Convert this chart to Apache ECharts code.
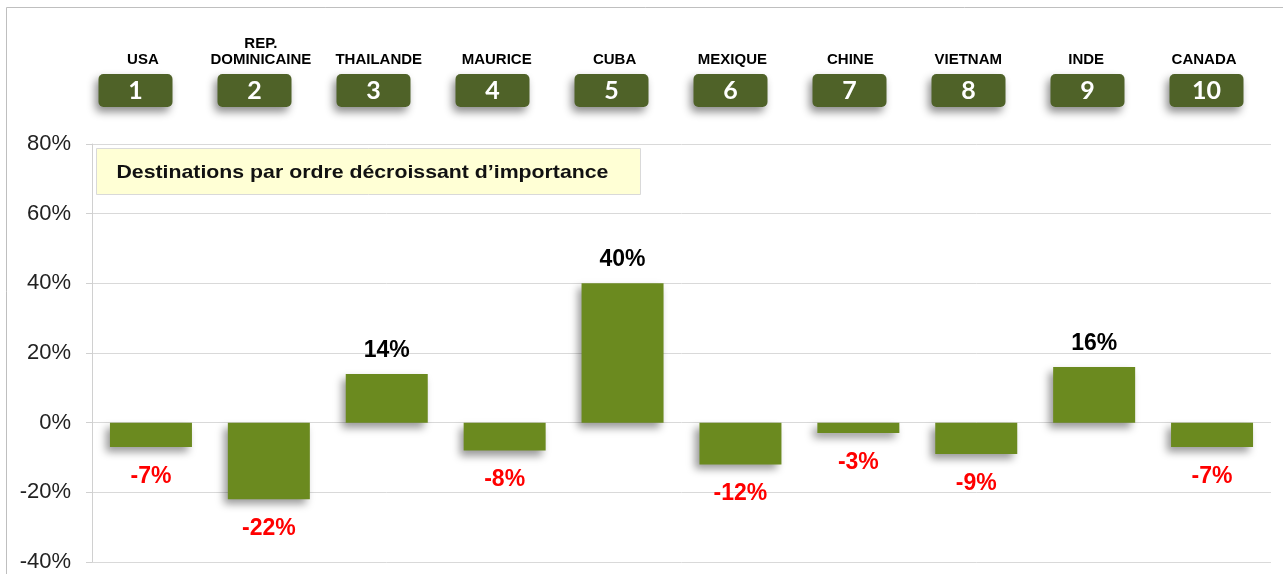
<!DOCTYPE html>
<html>
<head>
<meta charset="utf-8">
<script src="https://cdn.jsdelivr.net/npm/echarts@6/dist/echarts.min.js"></script>
<style>
  html, body { margin: 0; padding: 0; background: #fff; }
  #chart { width: 1283px; height: 574px; }
</style>
</head>
<body>
<div id="chart"></div>
<script>
const destinations = ['USA', 'REP.\nDOMINICAINE', 'THAILANDE', 'MAURICE', 'CUBA', 'MEXIQUE', 'CHINE', 'VIETNAM', 'INDE', 'CANADA']
const ranks = [1, 2, 3, 4, 5, 6, 7, 8, 9, 10]
const evolution = [-7, -22, 14, -8, 40, -12, -3, -9, 16, -7]
const boxTitle = 'Destinations par ordre d\u00e9croissant d\u2019importance'

const font = '"Liberation Sans", Arial, sans-serif'

const dom = echarts.init(document.getElementById('chart'))

const option = {
  animation: false,
  textStyle: { fontFamily: font },
  graphic: [
    {
      type: 'rect',
      shape: { x: 6.5, y: 7.5, width: 1400, height: 700 },
      style: { fill: 'none', stroke: '#bfbfbf', lineWidth: 1 },
      silent: true,
      z: 0
    },
    {
      type: 'group',
      left: 96,
      top: 148,
      z: 10,
      children: [
        {
          type: 'rect',
          shape: { x: 0, y: 0, width: 544, height: 46 },
          style: { fill: '#ffffd5', stroke: '#d9d9d9', lineWidth: 1 }
        },
        {
          type: 'text',
          x: 20,
          y: 24,
          scaleX: 1.12,
          style: {
            text: boxTitle,
            fontFamily: font,
            fontSize: 19,
            fontWeight: 'bold',
            fill: '#111',
            verticalAlign: 'middle'
          }
        }
      ]
    }
  ],
  grid: [
    { left: 92, right: 12, top: 144, bottom: 12 },
    { left: 76, right: 17, top: 110, height: 4 },
    { left: 84, right: 20, top: 70, height: 4 }
  ],
  xAxis: [
    {
      type: 'category',
      gridIndex: 0,
      data: destinations,
      axisLine: { show: false },
      axisTick: { show: false },
      axisLabel: { show: false }
    },
    {
      type: 'category',
      gridIndex: 1,
      position: 'top',
      data: ranks,
      axisLine: { show: false },
      axisTick: { show: false },
      axisLabel: {
        interval: 0,
        margin: 3,
        formatter: '{badge|{value}}',
        rich: {
          badge: {
            fontFamily: 'Lato, "Open Sans", sans-serif',
            fontSize: 25,
            fontWeight: 'bold',
            color: '#fff',
            backgroundColor: '#4f6228',
            borderRadius: 5,
            width: 74,
            height: 33,
            lineHeight: 33,
            align: 'center',
            shadowColor: 'rgba(0,0,0,0.45)',
            shadowBlur: 8,
            shadowOffsetX: -3,
            shadowOffsetY: 5
          }
        }
      }
    },
    {
      type: 'category',
      gridIndex: 2,
      position: 'top',
      data: destinations,
      axisLine: { show: false },
      axisTick: { show: false },
      axisLabel: {
        interval: 0,
        margin: 2,
        fontFamily: font,
        fontSize: 15,
        fontWeight: 'bold',
        color: '#000',
        lineHeight: 16
      }
    }
  ],
  yAxis: [
    {
      type: 'value',
      gridIndex: 0,
      min: -40,
      max: 80,
      interval: 20,
      axisLine: { show: true, lineStyle: { color: '#d0d0d0', width: 1 } },
      axisTick: { show: true, length: 6, lineStyle: { color: '#d0d0d0' } },
      splitLine: { show: true, lineStyle: { color: '#d9d9d9', width: 1 } },
      axisLabel: {
        formatter: '{value}%',
        fontFamily: font,
        fontSize: 22,
        color: '#222',
        margin: 21
      }
    },
    { type: 'value', gridIndex: 1, show: false },
    { type: 'value', gridIndex: 2, show: false }
  ],
  series: [
    {
      type: 'bar',
      xAxisIndex: 0,
      yAxisIndex: 0,
      barWidth: 82,
      data: evolution.map(v => ({
        value: v,
        label: v >= 0
          ? { position: 'top', distance: 12, color: '#000' }
          : { position: 'bottom', distance: 18, color: '#ff0000' }
      })),
      itemStyle: {
        color: '#6b8a1f',
        shadowColor: 'rgba(0,0,0,0.4)',
        shadowBlur: 8,
        shadowOffsetX: -4,
        shadowOffsetY: 5
      },
      label: {
        show: true,
        formatter: p => p.value + '%',
        fontFamily: font,
        fontSize: 23,
        fontWeight: 'bold'
      }
    }
  ]
}

dom.setOption(option)
window.addEventListener('resize', () => dom.resize())
</script>
</body>
</html>
